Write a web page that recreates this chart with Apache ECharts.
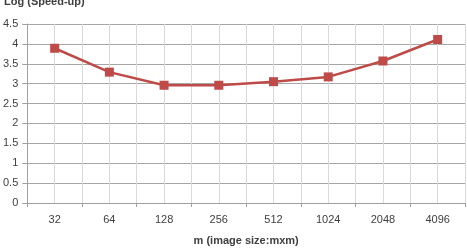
<!DOCTYPE html>
<html><head><meta charset="utf-8">
<script src="https://cdn.jsdelivr.net/npm/echarts@6/dist/echarts.min.js"></script>
<style>html,body{margin:0;padding:0;background:#fff}#c{width:467px;height:252px}</style>
</head><body><div id="c"></div>
<script>
const categories = ['32','64','128','256','512','1024','2048','4096'];
const speedup = [3.89, 3.29, 2.96, 2.96, 3.05, 3.17, 3.57, 4.11];
const yTicks = {min: 0, max: 4.5, interval: 0.5};

const chart = echarts.init(document.getElementById('c'));
const font = 'Liberation Sans';
chart.setOption({
  animation: false,
  textStyle: {fontFamily: font},
  title: {text: 'Log (Speed-up)', left: -1, top: -9,
    textStyle: {fontSize: 11, fontWeight: 'bold', color: '#404040', fontFamily: font}},
  grid: {left: 27, right: 2, top: 24, bottom: 49},
  xAxis: [{
    type: 'category', data: categories, boundaryGap: true,
    axisLine: {lineStyle: {color: '#a0a0a0'}},
    axisTick: {show: true, length: 4, lineStyle: {color: '#a0a0a0'}},
    axisLabel: {color: '#404040', fontSize: 11, margin: 11},
    splitLine: {show: true, lineStyle: {color: '#d9d9d9'}},
    name: 'm (image size:mxm)', nameLocation: 'middle', nameGap: 32,
    nameTextStyle: {fontWeight: 'bold', fontSize: 11, color: '#404040'}
  }, {
    type: 'value', min: 0, max: categories.length, interval: 0.5, position: 'bottom',
    axisLine: {show: false}, axisTick: {show: false}, axisLabel: {show: false},
    splitLine: {show: true, lineStyle: {color: '#d9d9d9'}}
  }],
  yAxis: {
    type: 'value', min: yTicks.min, max: yTicks.max, interval: yTicks.interval,
    axisLine: {show: true, lineStyle: {color: '#a0a0a0'}},
    axisTick: {show: true, length: 5, lineStyle: {color: '#a0a0a0'}},
    axisLabel: {color: '#404040', fontSize: 11, margin: 9},
    splitLine: {show: true, lineStyle: {color: '#a6a6a6'}}
  },
  series: [{
    type: 'line', xAxisIndex: 0, data: speedup,
    symbol: 'rect', symbolSize: 9,
    lineStyle: {color: '#be4b48', width: 2.5},
    itemStyle: {color: '#be4b48'}, z: 5
  }]
});
</script></body></html>
